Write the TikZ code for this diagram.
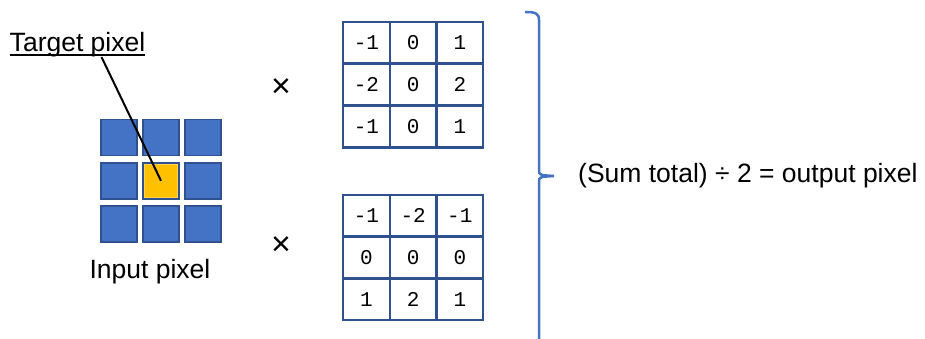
\documentclass[tikz,border=0pt]{standalone}
\usepackage{fontspec}
\setmainfont{Liberation Sans}
\newfontfamily\kernelfont{Liberation Mono}
\definecolor{PixBlue}{RGB}{68,114,196}
\definecolor{PixEdge}{RGB}{47,82,143}
\definecolor{PixGold}{RGB}{255,192,0}
\definecolor{GridBlue}{RGB}{47,82,143}
\usetikzlibrary{positioning}

\tikzset{
  pix/.style={draw=PixEdge,fill=PixBlue,line width=1.5pt,minimum size=36pt,inner sep=0pt},
  tpix/.style={draw=PixGold!70!white,fill=PixGold,line width=1pt,minimum size=33pt,inner sep=0pt},
  kcell/.style={draw=GridBlue,line width=2.5pt,minimum width=46.7pt,minimum height=41.7pt,
                inner sep=0pt,font=\kernelfont\fontsize{21}{22}\selectfont},
  lbl/.style={inner sep=0pt,font=\fontsize{26.5}{30}\selectfont},
  times/.style={inner sep=0pt,font=\fontsize{34}{36}\selectfont}
}

\begin{document}
\begin{tikzpicture}[x=1pt,y=-1pt]
  \useasboundingbox (0,0) rectangle (925,339);
  % input pixels
  \foreach \r/\yy in {1/137.5,2/180.8,3/224.2}
    \foreach \c/\xx in {1/119.2,2/161,3/203}
      \node[pix] (p\r\c) at (\xx,\yy) {};
  \node[tpix] (tp) at (p22.center) {};
  \node[lbl,anchor=base] (tgt) at (77.5,52) {Target pixel};
  \draw[line width=1.5pt] ([yshift=-3pt]tgt.base west) -- ([yshift=-3pt]tgt.base east);
  \coordinate (lead) at ([xshift=24pt,yshift=-5pt]tgt.base);
  \draw[line width=2pt] (lead) -- (tp.center);
  \node[lbl] (inp) at (150,272) {Input pixel};
  % kernels
  \node[times] (x1) at (281,88) {×};
  \node[times] (x2) at (281,246) {×};
  \foreach \r/\yy/\a/\b/\c in {1/43/-1/0/1, 2/84.5/-2/0/2, 3/126.5/-1/0/1} {
    \node[kcell] (ka\r1) at (366.4,\yy) {\a};
    \node[kcell] (ka\r2) at (413.1,\yy) {\b};
    \node[kcell] (ka\r3) at (459.8,\yy) {\c};
  }
  \foreach \r/\yy/\a/\b/\c in {1/215.8/-1/-2/-1, 2/257.5/0/0/0, 3/299.2/1/2/1} {
    \node[kcell] (kb\r1) at (366.4,\yy) {\a};
    \node[kcell] (kb\r2) at (413.1,\yy) {\b};
    \node[kcell] (kb\r3) at (459.8,\yy) {\c};
  }
  % brace
  \draw[PixBlue,line width=2.5pt] (525,12) .. controls (535,12) and (539,13) .. (539,20)
    -- (539,170) .. controls (539,175) .. (554,176)
    .. controls (539,177) .. (539,182) -- (539,345);
  \node[lbl,anchor=west] (out) at (578,176) {(Sum total) ÷ 2 = output pixel};
\end{tikzpicture}
\end{document}
